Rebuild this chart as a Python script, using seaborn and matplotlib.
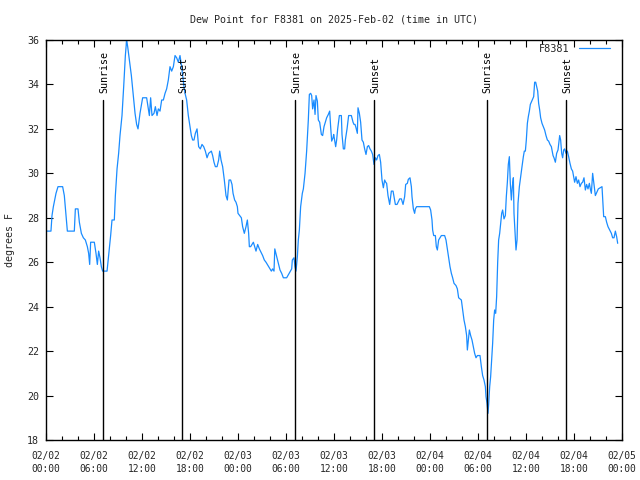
import matplotlib
matplotlib.use("Agg")
import matplotlib.pyplot as plt
import seaborn as sns
import pandas as pd
import numpy as np
from matplotlib.ticker import MultipleLocator

# hours since 2025-02-02 00:00 UTC
hours = [
    0.0, 0.62, 0.75, 0.92, 1.08, 1.25, 1.5, 2.08, 2.29, 2.5, 2.67, 3.54, 3.67, 4.0,
    4.17, 4.42, 4.67, 4.92, 5.17, 5.33, 5.46, 5.58, 6.04, 6.25, 6.42, 6.58, 6.75, 6.92,
    7.08, 7.63, 7.83, 8.08, 8.25, 8.54, 8.67, 8.88, 9.08, 9.25, 9.5, 9.71, 9.92, 10.08,
    10.21, 10.42, 10.67, 10.92, 11.13, 11.33, 11.5, 11.75, 12.08, 12.58, 12.75, 12.92,
    13.08, 13.25, 13.5, 13.67, 13.88, 14.04, 14.25, 14.46, 14.67, 14.88, 15.08, 15.29,
    15.5, 15.71, 15.92, 16.13, 16.33, 16.54, 16.75, 16.96, 17.08, 17.25, 17.38, 17.58,
    17.79, 18.0, 18.17, 18.33, 18.5, 18.67, 18.88, 19.08, 19.29, 19.5, 19.71, 19.92,
    20.13, 20.33, 20.67, 20.83, 21.0, 21.17, 21.38, 21.58, 21.71, 21.88, 22.08, 22.29,
    22.5, 22.67, 22.88, 23.08, 23.25, 23.38, 23.58, 23.75, 23.92, 24.0, 24.42, 24.58,
    24.79, 25.0, 25.17, 25.33, 25.42, 25.58, 25.75, 25.92, 26.08, 26.25, 26.46, 26.67,
    27.08, 27.29, 27.5, 27.67, 27.83, 28.0, 28.17, 28.33, 28.5, 28.6, 29.04, 29.25,
    29.46, 29.67, 30.08, 30.71, 30.79, 31.0, 31.13, 31.25, 31.42, 31.54, 31.67, 31.83,
    32.04, 32.17, 32.38, 32.58, 32.79, 32.92, 33.08, 33.21, 33.33, 33.5, 33.63, 33.75,
    33.92, 34.04, 34.21, 34.42, 34.58, 34.75, 35.08, 35.29, 35.46, 35.58, 35.71, 35.88,
    35.96, 36.08, 36.21, 36.33, 36.46, 36.67, 36.79, 36.92, 37.0, 37.17, 37.33, 37.42,
    37.63, 37.83, 38.17, 38.38, 38.5, 38.63, 38.75, 38.92, 39.0, 39.17, 39.33, 39.5,
    39.67, 39.83, 40.0, 40.17, 40.33, 40.5, 40.67, 40.83, 41.0, 41.17, 41.33, 41.5, 41.67,
    41.83, 42.0, 42.17, 42.33, 42.46, 42.58, 42.75, 42.96, 43.17, 43.38, 43.67, 43.88,
    44.21, 44.42, 44.63, 44.83, 44.96, 45.17, 45.29, 45.5, 45.67, 45.75, 45.92, 46.08,
    46.17, 46.33, 47.92, 48.08, 48.25, 48.33, 48.46, 48.67, 48.79, 48.92, 49.08, 49.42,
    49.83, 50.0, 50.17, 50.33, 50.5, 50.67, 50.83, 51.0, 51.25, 51.42, 51.58, 51.92,
    52.08, 52.25, 52.42, 52.58, 52.67, 52.79, 52.92, 53.08, 53.25, 53.42, 53.58, 53.75,
    53.92, 54.08, 54.25, 54.42, 54.58, 54.75, 54.92, 55.0, 55.13, 55.25, 55.33, 55.46,
    55.58, 55.71, 55.83, 55.96, 56.08, 56.21, 56.33, 56.46, 56.58, 56.71, 56.83, 56.96,
    57.08, 57.25, 57.42, 57.54, 57.67, 57.79, 57.92, 58.04, 58.17, 58.29, 58.42, 58.5,
    58.63, 58.75, 58.88, 59.0, 59.17, 59.33, 59.5, 59.67, 59.79, 59.92, 60.04, 60.17,
    60.29, 60.42, 60.54, 60.96, 61.08, 61.21, 61.33, 61.46, 61.58, 61.71, 61.83, 62.0,
    62.17, 62.33, 62.5, 62.67, 62.83, 63.0, 63.17, 63.25, 63.38, 63.5, 63.67, 63.83,
    64.0, 64.08, 64.21, 64.33, 64.46, 64.58, 64.71, 64.83, 65.0, 65.17, 65.33, 65.5,
    65.67, 65.83, 65.96, 66.08, 66.25, 66.42, 66.58, 66.75, 66.92, 67.08, 67.25, 67.42,
    67.58, 67.75, 67.92, 68.04, 68.17, 68.33, 68.5, 68.67, 68.92, 69.04, 69.5, 69.71,
    69.92, 70.08, 70.25, 70.67, 70.83, 71.0, 71.17, 71.33, 71.46,
]

dewpoint = [
    27.4, 27.4, 28.1, 28.5, 28.8, 29.1, 29.4, 29.4, 29.0, 28.1, 27.4, 27.4, 28.4, 28.4,
    27.8, 27.3, 27.1, 27.0, 26.7, 26.4, 25.9, 26.9, 26.9, 26.4, 25.9, 26.5, 26.2, 25.8,
    25.6, 25.6, 26.3, 27.2, 27.9, 27.9, 29.0, 30.2, 30.9, 31.7, 32.6, 33.9, 35.3, 36.0,
    35.7, 35.1, 34.4, 33.5, 32.7, 32.2, 32.0, 32.7, 33.4, 33.4, 33.0, 32.6,
    33.4, 32.6, 32.7, 33.0, 32.6, 32.9, 32.8, 33.3, 33.3, 33.6, 33.8, 34.2,
    34.8, 34.6, 34.8, 35.3, 35.2, 35.0, 35.3, 34.8, 34.4, 33.9, 33.6, 33.3,
    32.6, 32.1, 31.7, 31.5, 31.5, 31.8, 32.0, 31.2, 31.1, 31.3, 31.2, 31.0,
    30.7, 30.9, 31.0, 30.8, 30.5, 30.3, 30.3, 30.6, 31.0, 30.6, 30.3, 29.7,
    29.0, 28.8, 29.7, 29.7, 29.5, 29.1, 28.8, 28.7, 28.5, 28.2, 28.0, 27.6,
    27.3, 27.6, 27.9, 27.3, 26.7, 26.7, 26.8, 26.9, 26.7, 26.5, 26.8, 26.6,
    26.3, 26.1, 26.0, 25.9, 25.8, 25.7, 25.6, 25.7, 25.6, 26.6, 25.95,
    25.65, 25.5, 25.3, 25.3, 25.7, 26.1, 26.2, 25.8, 25.6, 26.25, 27.0, 27.45,
    28.5, 29.1, 29.3, 30.0, 31.0, 32.4, 33.55, 33.6, 33.5, 32.9, 33.3, 32.65,
    33.5, 33.25, 32.4, 32.3, 31.75, 31.7, 32.1, 32.5, 32.65, 32.8, 32.1, 31.45,
    31.6, 31.75, 31.5, 31.2, 31.5, 32.0, 32.6, 32.6, 32.6, 31.75, 31.1, 31.1,
    31.5, 32.0, 32.6, 32.6, 32.3, 32.2, 32.2, 32.05, 31.8, 32.95, 32.7, 32.3,
    31.5, 31.4, 31.1, 30.85, 31.2, 31.25, 31.1, 31.0, 30.85, 30.4, 30.7, 30.6, 30.8,
    30.85, 30.5, 29.7, 29.35, 29.7, 29.6, 29.55, 29.0, 28.6, 29.2, 29.2, 28.6,
    28.6, 28.85, 28.85, 28.6, 28.95, 29.5, 29.55, 29.73, 29.8, 29.4, 28.95, 28.4,
    28.2, 28.4, 28.5, 28.5, 28.35, 27.9, 27.45, 27.2, 27.2, 26.7, 26.55, 27.0,
    27.2, 27.2, 27.0, 26.6, 26.2, 25.8, 25.5, 25.3, 25.05, 24.95, 24.8, 24.4,
    24.3, 23.85, 23.4, 23.1, 22.7, 22.05, 22.5, 22.95, 22.7, 22.5, 22.2, 21.9,
    21.7, 21.8, 21.8, 21.8, 21.3, 20.9, 20.7, 20.4, 19.95, 19.65, 19.2, 19.6,
    20.4, 20.85, 21.6, 22.35, 23.4, 23.85, 23.7, 24.45, 26.0, 27.0, 27.3, 27.75,
    28.2, 28.35, 27.95, 28.1, 28.95, 29.6, 30.4, 30.75, 29.55, 28.8, 29.4, 29.8,
    28.2, 27.3, 26.55, 27.0, 28.65, 29.4, 29.85, 30.3, 30.75, 31.0, 31.0, 31.5,
    32.25, 32.55, 32.8, 33.1, 33.45, 34.1, 34.1, 33.9, 33.7, 33.15, 32.85, 32.5,
    32.25, 32.1, 31.95, 31.7, 31.5, 31.45, 31.3, 31.2, 31.05, 30.8, 30.7, 30.5,
    30.9, 31.05, 31.3, 31.7, 31.5, 30.9, 30.7, 31.05, 31.1, 30.9, 31.0, 30.75,
    30.45, 30.2, 30.1, 29.85, 29.6, 29.85, 29.55, 29.7, 29.4, 29.55, 29.6, 29.8,
    29.25, 29.5, 29.3, 29.55, 29.3, 29.1, 30.0, 29.5, 29.0, 29.2, 29.3, 29.4,
    28.05, 28.05, 27.8, 27.6, 27.3, 27.1, 27.1, 27.4, 27.15, 26.85, 26.55, 26.8,
]

sunrise_hours = [7.13, 31.13, 55.08]
sunset_hours = [17.0, 41.0, 65.04]

xtick_hours = [0, 6, 12, 18, 24, 30, 36, 42, 48, 54, 60, 66, 72]
xtick_labels = ["02/02\n00:00", "02/02\n06:00", "02/02\n12:00", "02/02\n18:00",
                "02/03\n00:00", "02/03\n06:00", "02/03\n12:00", "02/03\n18:00",
                "02/04\n00:00", "02/04\n06:00", "02/04\n12:00", "02/04\n18:00",
                "02/05\n00:00"]

title = "Dew Point for F8381 on 2025-Feb-02 (time in UTC)"
series_name = "F8381"

n = min(len(hours), len(dewpoint))
df = pd.DataFrame({"hours": hours[:n], "dewpoint": dewpoint[:n]})

sns.set_theme(style="white")
plt.rcParams["font.family"] = ["DejaVu Sans Mono"]
FS = 6.9

fig = plt.figure(figsize=(6.4, 4.8), dpi=100)
ax = fig.add_axes([46 / 640, 40 / 480, 576 / 640, 400 / 480])

sns.lineplot(data=df, x="hours", y="dewpoint", ax=ax, color="#1a8cff",
             linewidth=0.9, label=series_name)

ytop_line = 33.3
for h in sunrise_hours:
    ax.plot([h, h], [18, ytop_line], color="black", linewidth=1.0)
    ax.text(h + 0.12, ytop_line + 0.3, "Sunrise", rotation=90, ha="center",
            va="bottom", fontsize=7.2, color="black")
for h in sunset_hours:
    ax.plot([h, h], [18, ytop_line], color="black", linewidth=1.0)
    ax.text(h + 0.12, ytop_line + 0.3, "Sunset", rotation=90, ha="center",
            va="bottom", fontsize=7.2, color="black")

ax.set_xlim(0, 72)
ax.set_ylim(18, 36)
ax.set_xticks(xtick_hours)
ax.set_xticklabels(xtick_labels, fontsize=FS, linespacing=1.3)
ax.xaxis.set_minor_locator(MultipleLocator(2))
ax.yaxis.set_major_locator(MultipleLocator(2))
ax.tick_params(axis="y", labelsize=FS + 0.3, pad=5)
ax.tick_params(axis="x", pad=8)
ax.tick_params(which="both", direction="in", top=True, right=True,
               bottom=True, left=True, color="black", width=0.8)
ax.tick_params(which="major", length=5)
ax.tick_params(which="minor", length=3)
for s in ax.spines.values():
    s.set_color("black")
    s.set_linewidth(1.0)

ax.set_xlabel("")
ax.set_ylabel("degrees F", fontsize=FS + 0.3, labelpad=9)
fig.text(334 / 640, 1 - 20 / 480, title, ha="center", va="center", fontsize=7.2)

leg = ax.legend(loc="upper right", frameon=False, fontsize=FS + 0.5, handlelength=3.0,
                borderaxespad=0.0, borderpad=0.0, handletextpad=0.9,
                markerfirst=False, bbox_to_anchor=(1 - 12 / 576, 1 - 4 / 400))

fig.savefig("out.png", dpi=100)
